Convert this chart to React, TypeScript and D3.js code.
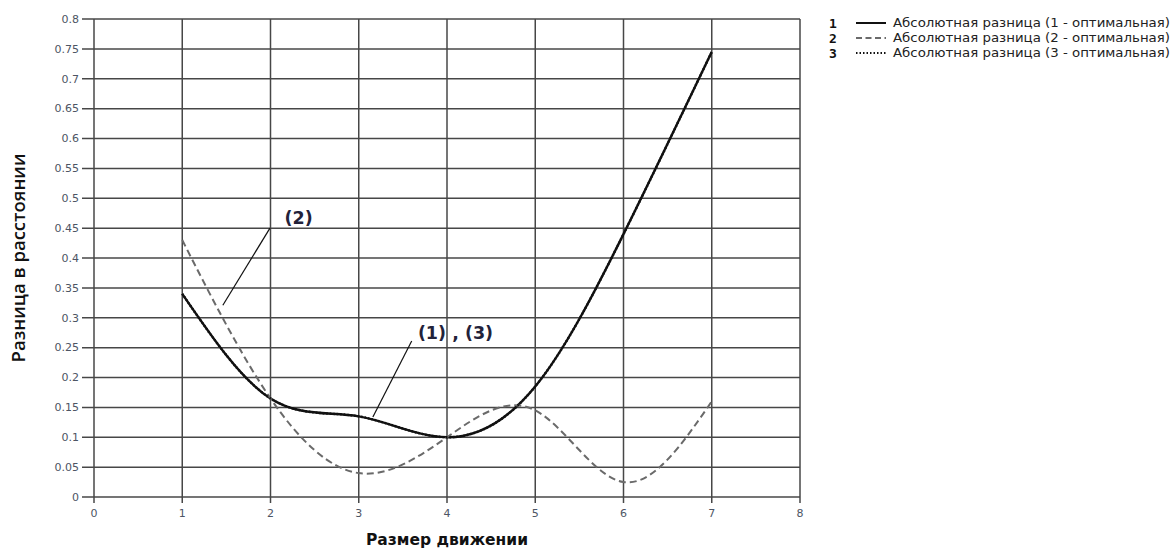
import React from 'react';
import * as d3 from 'd3';

// data
const moveSize = [1, 2, 3, 4, 5, 6, 7];
const diff1 = [0.34, 0.165, 0.135, 0.1, 0.185, 0.44, 0.745];
const diff2 = [0.43, 0.165, 0.04, 0.1, 0.145, 0.025, 0.16];
const diff3 = [0.34, 0.165, 0.135, 0.1, 0.185, 0.44, 0.745];

const xTicks = [0, 1, 2, 3, 4, 5, 6, 7, 8];
const yTicks = [0, 0.05, 0.1, 0.15, 0.2, 0.25, 0.3, 0.35, 0.4, 0.45, 0.5, 0.55, 0.6, 0.65, 0.7, 0.75, 0.8];

const legendNames = [
  'Абсолютная разница (1 - оптимальная)',
  'Абсолютная разница (2 - оптимальная)',
  'Абсолютная разница (3 - оптимальная)',
];
const legendNums = ['1', '2', '3'];

// callouts: label, text anchor point, leader start, leader end (data units)
const callouts = [
  { label: '(2)', tx: 2.16, ty: 0.467, x1: 1.994, y1: 0.45, x2: 1.46, y2: 0.321 },
  { label: '(1) , (3)', tx: 3.67, ty: 0.274, x1: 3.6, y1: 0.261, x2: 3.16, y2: 0.134 },
];

const W = 1173;
const H = 550;
const left = 94, right = 800, top = 19, bottom = 497;

const App = () => {
  const x = d3.scaleLinear().domain([0, 8]).range([left, right]);
  const y = d3.scaleLinear().domain([0, 0.8]).range([bottom, top]);

  const line = d3.line<number>()
    .x((d, i) => x(moveSize[i]))
    .y(d => y(d))
    .curve(d3.curveNatural);

  const series = [
    { values: diff1, stroke: '#111', width: 2.4, dash: 'none' },
    { values: diff2, stroke: '#6a6a6a', width: 2, dash: '7,4' },
    { values: diff3, stroke: '#111', width: 2.4, dash: '1.5,2' },
  ];

  const tickFont = '"DejaVu Sans", sans-serif';
  const gridColor = '#474747';

  return (
    <div style={{ position: 'absolute', left: 0, top: 0 }}>
      <svg width={W} height={H} style={{ display: 'block', background: '#fff' }}>
        {/* grid */}
        {yTicks.map(t => (
          <line key={'gy' + t} x1={left - 12} x2={right} y1={y(t)} y2={y(t)} stroke={gridColor} strokeWidth={1.5} />
        ))}
        {xTicks.map(t => (
          <line key={'gx' + t} x1={x(t)} x2={x(t)} y1={top} y2={bottom + 6} stroke={gridColor} strokeWidth={1.5} />
        ))}
        {/* tick labels */}
        {yTicks.map(t => (
          <text key={'ly' + t} x={left - 15} y={y(t)} dy="0.35em" textAnchor="end" fontFamily={tickFont} fontSize={11} fill="#4d5564">
            {d3.format('~g')(t)}
          </text>
        ))}
        {xTicks.map(t => (
          <text key={'lx' + t} x={x(t)} y={bottom + 16} dy="0.35em" textAnchor="middle" fontFamily={tickFont} fontSize={11} fill="#4d5564">
            {t}
          </text>
        ))}

        {/* curves */}
        {series.map((s, i) => (
          <path key={'s' + i} d={line(s.values) || ''} fill="none" stroke={s.stroke} strokeWidth={s.width}
            strokeDasharray={s.dash} />
        ))}

        {/* callouts */}
        {callouts.map(c => (
          <g key={c.label}>
            <line x1={x(c.x1)} y1={y(c.y1)} x2={x(c.x2)} y2={y(c.y2)} stroke="#111" strokeWidth={1.2} />
            <text x={x(c.tx)} y={y(c.ty)} dy="0.35em" fontFamily='"DejaVu Sans", sans-serif' fontWeight={700} fontSize={17.5} fill="#22223a">
              {c.label}
            </text>
          </g>
        ))}

        {/* axis titles */}
        <text transform={`translate(19,${(top + bottom) / 2}) rotate(-90)`} textAnchor="middle" dy="0.35em"
          fontFamily='"Open Sans", sans-serif' fontWeight={600} fontSize={18.5} fill="#111">
          Разница в расстоянии
        </text>
        <text x={(left + right) / 2} y={540} dy="0.35em" textAnchor="middle"
          fontFamily='"DejaVu Sans", sans-serif' fontWeight={700} fontSize={15.5} fill="#111">
          Размер движении
        </text>

        {/* legend */}
        {legendNames.map((name, i) => {
          const ly = 23 + i * 15;
          const s = series[i];
          return (
            <g key={name}>
              <text x={829} y={ly} dy="0.35em" fontFamily='"DejaVu Sans Mono", monospace' fontWeight={700} fontSize={13} fill="#111">
                {legendNums[i]}
              </text>
              <line x1={856} x2={886} y1={ly} y2={ly} stroke={s.stroke} strokeWidth={2}
                strokeDasharray={i === 1 ? '6,3.5' : i === 2 ? '1.5,2' : 'none'} />
              <text x={893} y={ly} dy="0.35em" fontFamily='"DejaVu Sans", sans-serif' fontSize={12.5} fill="#222"
                textLength={277} lengthAdjust="spacingAndGlyphs">
                {name}
              </text>
            </g>
          );
        })}
      </svg>
    </div>
  );
};

export default App;
